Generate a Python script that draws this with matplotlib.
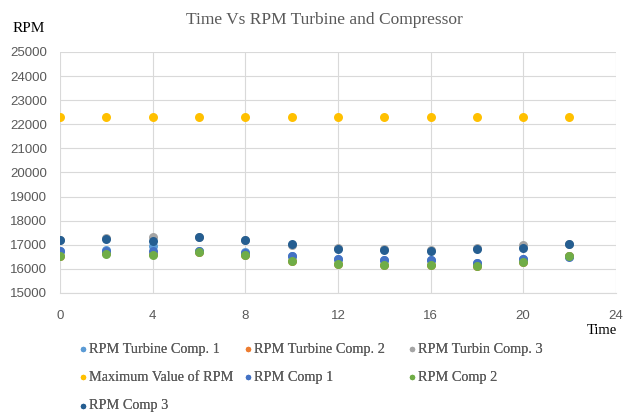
import matplotlib
matplotlib.use("Agg")
import matplotlib.pyplot as plt

plt.rcParams['font.family'] = ['Liberation Serif', 'DejaVu Serif']

time = [0, 2, 4, 6, 8, 10, 12, 14, 16, 18, 20, 22]
turb1 = [16750, 16780, 16940, 16720, 16680, 16530, 16400, 16370, 16360, 16260, 16420, 16520]
turb2 = [16540, 16640, 16600, 16700, 16570, 16330, 16200, 16170, 16170, 16130, 16290, 16520]
turb3 = [17200, 17260, 17320, 17310, 17200, 17000, 16860, 16820, 16780, 16860, 16990, 17020]
maxrpm = [22300] * 12
comp1 = [16730, 16760, 16760, 16720, 16670, 16530, 16390, 16360, 16360, 16260, 16420, 16500]
comp2 = [16530, 16630, 16590, 16690, 16560, 16320, 16190, 16160, 16160, 16120, 16280, 16530]
comp3 = [17190, 17240, 17170, 17300, 17180, 17040, 16840, 16800, 16760, 16840, 16870, 17010]

series = [
    ("RPM Turbine Comp. 1", turb1, "#5B9BD5"),
    ("RPM Turbine Comp. 2", turb2, "#ED7D31"),
    ("RPM Turbin Comp. 3", turb3, "#A5A5A5"),
    ("Maximum Value of RPM", maxrpm, "#FFC000"),
    ("RPM Comp 1", comp1, "#4472C4"),
    ("RPM Comp 2", comp2, "#70AD47"),
    ("RPM Comp 3", comp3, "#255E91"),
]

fig = plt.figure(figsize=(6.33, 4.12), dpi=100)
ax = fig.add_axes([0.0948, 0.289, 0.878, 0.585])
handles = []
for name, vals, col in series:
    h = ax.scatter(time, vals, s=42, color=col, label=name, zorder=3, linewidths=0)
    handles.append(h)

ax.set_xlim(0, 24)
ax.set_ylim(15000, 25000)
ax.set_xticks(range(0, 25, 4))
ax.set_yticks(range(15000, 25001, 1000))
ax.grid(True, color="#D9D9D9", linewidth=0.8)
ax.set_axisbelow(True)
for s in ["top", "right"]:
    ax.spines[s].set_visible(False)
ax.spines["left"].set_visible(False)
ax.spines["bottom"].set_color("#D9D9D9")
ax.tick_params(axis="y", length=0, labelsize=9.5, colors="#595959", pad=9.5)
ax.tick_params(axis="x", length=0, labelsize=9.5, colors="#595959", pad=12.5)
for lbl in ax.get_xticklabels() + ax.get_yticklabels():
    lbl.set_family(["Liberation Sans", "DejaVu Sans"])

fig.text(0.512, 0.951, "Time Vs RPM Turbine and Compressor", ha="center", va="center",
         fontsize=12.5, color="#595959")
fig.text(0.02, 0.93, "RPM", ha="left", va="center", fontsize=11, color="black")
fig.text(0.975, 0.198, "Time", ha="right", va="center", fontsize=10.5, color="black")

columns = [[0, 3, 6], [1, 4], [2, 5]]
col_x = [0.124, 0.385, 0.644]
for idxs, x0 in zip(columns, col_x):
    leg = fig.legend([handles[i] for i in idxs], [series[i][0] for i in idxs],
                     ncol=1, loc="upper left", bbox_to_anchor=(x0, 0.167),
                     frameon=False, fontsize=10.3, handletextpad=0.1,
                     labelspacing=1.05, markerscale=0.6, borderpad=0,
                     handlelength=0.6, borderaxespad=0)
    for t in leg.get_texts():
        t.set_color("#595959")
    fig.add_artist(leg)

fig.savefig("out.png", dpi=100)
